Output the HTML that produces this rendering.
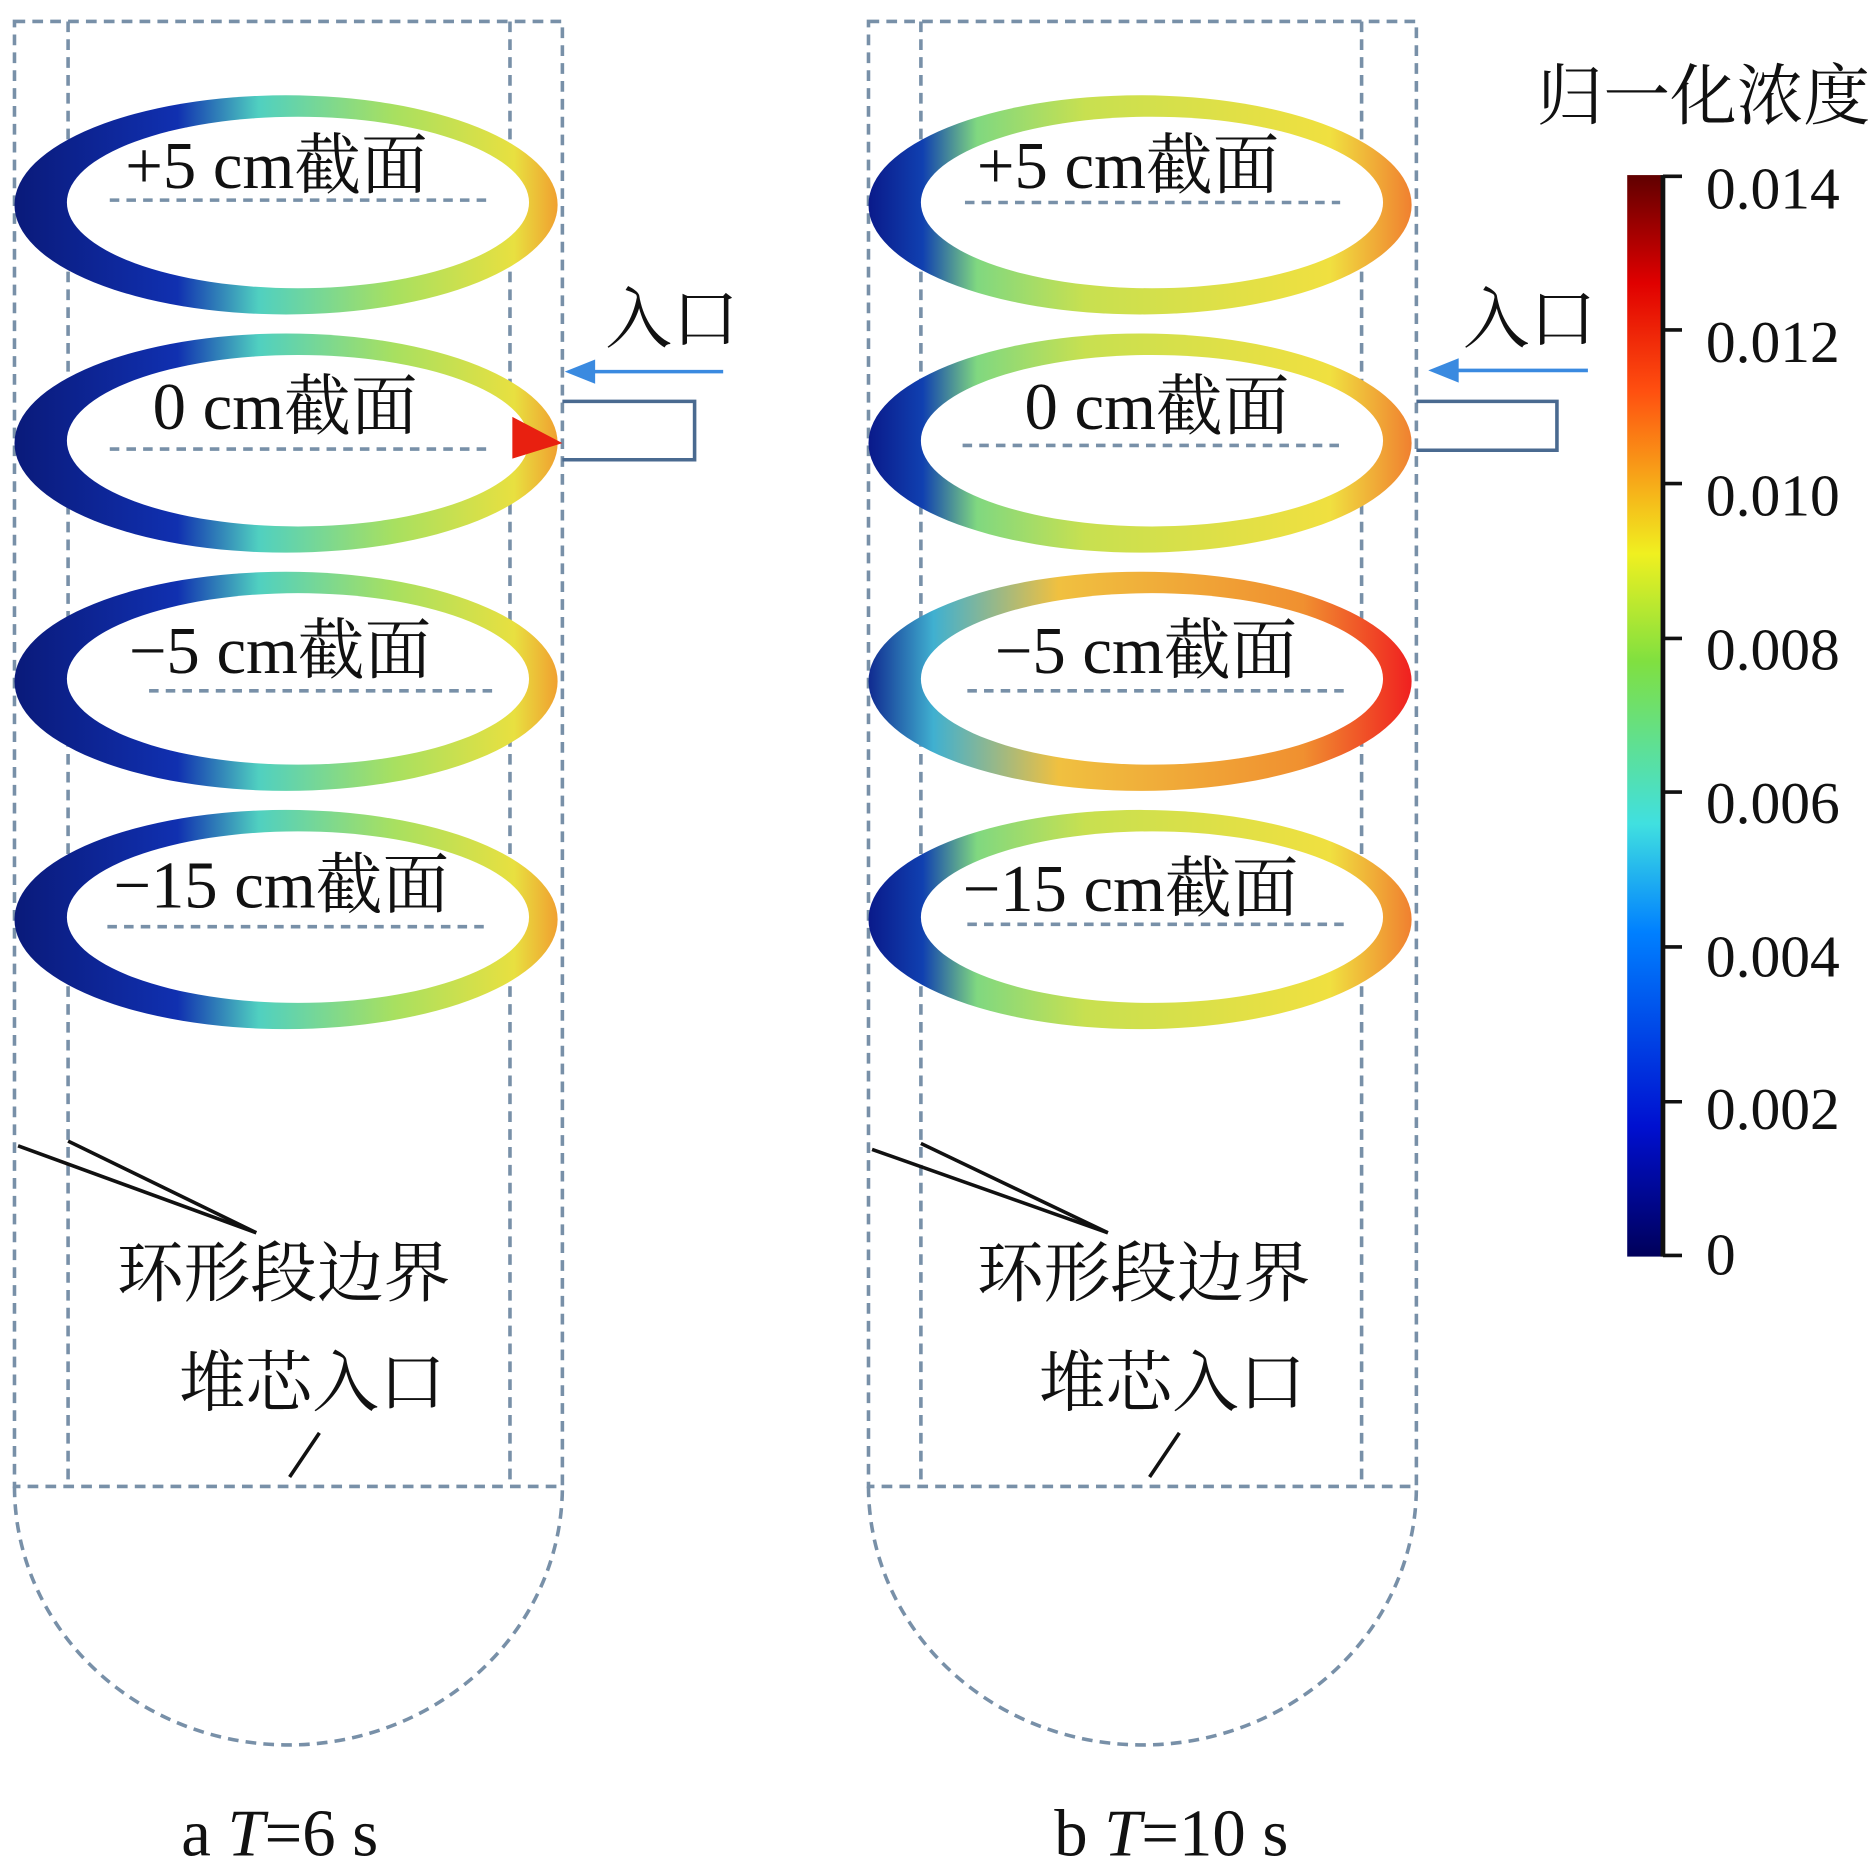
<!DOCTYPE html>
<html><head><meta charset="utf-8"><style>body{margin:0;background:#fff}svg{display:block}</style></head><body>
<svg width="1868" height="1870" viewBox="0 0 1568 1570" xmlns="http://www.w3.org/2000/svg" font-family="'Liberation Serif','Noto Serif CJK SC',serif">
<defs>
<linearGradient id="ga" x1="0" x2="1"><stop offset="0" stop-color="#0a1a7a"/><stop offset="0.3" stop-color="#1030b0"/><stop offset="0.45" stop-color="#50d0c0"/><stop offset="0.7" stop-color="#a8e060"/><stop offset="0.92" stop-color="#e8e040"/><stop offset="1" stop-color="#f0a030"/></linearGradient>
<linearGradient id="gb" x1="0" x2="1"><stop offset="0" stop-color="#0a1a8a"/><stop offset="0.1" stop-color="#1040b0"/><stop offset="0.2" stop-color="#80d880"/><stop offset="0.4" stop-color="#c8e050"/><stop offset="0.85" stop-color="#f0e040"/><stop offset="1" stop-color="#f08030"/></linearGradient>
<linearGradient id="gb3" x1="0" x2="1"><stop offset="0" stop-color="#102a90"/><stop offset="0.12" stop-color="#40b0d0"/><stop offset="0.35" stop-color="#f0c040"/><stop offset="0.8" stop-color="#f09030"/><stop offset="1" stop-color="#f02020"/></linearGradient>
<linearGradient id="jet" x1="0" y1="1" x2="0" y2="0"><stop offset="0" stop-color="#00005a"/><stop offset="0.12" stop-color="#0010d0"/><stop offset="0.3" stop-color="#0080ff"/><stop offset="0.4" stop-color="#40e0e0"/><stop offset="0.55" stop-color="#80e040"/><stop offset="0.65" stop-color="#f0f020"/><stop offset="0.8" stop-color="#ff5010"/><stop offset="0.9" stop-color="#e00000"/><stop offset="1" stop-color="#600000"/></linearGradient>
</defs>
<g stroke="#7890a8" stroke-width="3" stroke-dasharray="9,6" fill="none">
<rect x="12" y="18" width="460" height="1230"/><line x1="57" y1="18" x2="57" y2="1248"/><line x1="428" y1="18" x2="428" y2="1248"/>
<path d="M12 1248 A230 217 0 0 0 472 1248"/>
<rect x="729" y="18" width="460" height="1230"/><line x1="773" y1="18" x2="773" y2="1248"/><line x1="1143" y1="18" x2="1143" y2="1248"/>
<path d="M729 1248 A230 217 0 0 0 1189 1248"/>
</g>
<g>
<ellipse cx="240" cy="172" rx="228" ry="92" fill="url(#ga)"/><ellipse cx="250" cy="170" rx="194" ry="72" fill="#fff"/>
<ellipse cx="240" cy="372" rx="228" ry="92" fill="url(#ga)"/><ellipse cx="250" cy="370" rx="194" ry="72" fill="#fff"/>
<path d="M430 350 L472 372 L430 385 Z" fill="#e82010"/>
<ellipse cx="240" cy="572" rx="228" ry="92" fill="url(#ga)"/><ellipse cx="250" cy="570" rx="194" ry="72" fill="#fff"/>
<ellipse cx="240" cy="772" rx="228" ry="92" fill="url(#ga)"/><ellipse cx="250" cy="770" rx="194" ry="72" fill="#fff"/>
<ellipse cx="957" cy="172" rx="228" ry="92" fill="url(#gb)"/><ellipse cx="967" cy="170" rx="194" ry="72" fill="#fff"/>
<ellipse cx="957" cy="372" rx="228" ry="92" fill="url(#gb)"/><ellipse cx="967" cy="370" rx="194" ry="72" fill="#fff"/>
<ellipse cx="957" cy="572" rx="228" ry="92" fill="url(#gb3)"/><ellipse cx="967" cy="570" rx="194" ry="72" fill="#fff"/>
<ellipse cx="957" cy="772" rx="228" ry="92" fill="url(#gb)"/><ellipse cx="967" cy="770" rx="194" ry="72" fill="#fff"/>
</g>
<g stroke="#7890a8" stroke-width="3" stroke-dasharray="8,6">
<line x1="92" y1="168" x2="410" y2="168"/><line x1="92" y1="377" x2="410" y2="377"/><line x1="125" y1="580" x2="415" y2="580"/><line x1="90" y1="778" x2="410" y2="778"/>
<line x1="810" y1="170" x2="1125" y2="170"/><line x1="808" y1="374" x2="1125" y2="374"/><line x1="812" y1="580" x2="1130" y2="580"/><line x1="812" y1="776" x2="1130" y2="776"/>
</g>
<g font-size="56" fill="#111">
<text x="105" y="158">+5 cm截面</text><text x="128" y="360">0 cm截面</text><text x="108" y="565">−5 cm截面</text><text x="95" y="762">−15 cm截面</text>
<text x="820" y="158">+5 cm截面</text><text x="860" y="360">0 cm截面</text><text x="835" y="565">−5 cm截面</text><text x="808" y="765">−15 cm截面</text>
<text x="508" y="287">入口</text><text x="1228" y="287">入口</text>
<text x="98" y="1088">环形段边界</text><text x="150" y="1180">堆芯入口</text>
<text x="820" y="1088">环形段边界</text><text x="872" y="1180">堆芯入口</text>
<text x="1290" y="100">归一化浓度</text>
<text x="152" y="1558">a  <tspan font-style="italic">T</tspan>=6 s</text>
<text x="885" y="1558">b  <tspan font-style="italic">T</tspan>=10 s</text>
</g>
<g stroke="#4a6a90" stroke-width="3" fill="none">
<path d="M472 337 H583 V386 H472"/><path d="M1189 337 H1307 V378 H1189"/>
</g>
<g stroke="#3a8ae0" stroke-width="3" fill="#3a8ae0">
<line x1="607" y1="312" x2="490" y2="312"/><path d="M478 312 L498 304 L498 320 Z"/>
<line x1="1333" y1="311" x2="1215" y2="311"/><path d="M1203 311 L1223 303 L1223 319 Z"/>
</g>
<g stroke="#111" stroke-width="3">
<line x1="15" y1="962" x2="215" y2="1035"/><line x1="57" y1="958" x2="215" y2="1035"/><line x1="268" y1="1203" x2="243" y2="1240"/>
<line x1="732" y1="965" x2="930" y2="1035"/><line x1="773" y1="960" x2="930" y2="1035"/><line x1="990" y1="1203" x2="965" y2="1240"/>
</g>
<rect x="1366" y="147" width="30" height="908" fill="url(#jet)"/>
<line x1="1396" y1="147" x2="1396" y2="1055" stroke="#111" stroke-width="4"/>
<g stroke="#111" stroke-width="3">
<line x1="1396" y1="148" x2="1412" y2="148"/><line x1="1396" y1="277" x2="1412" y2="277"/><line x1="1396" y1="406" x2="1412" y2="406"/><line x1="1396" y1="536" x2="1412" y2="536"/><line x1="1396" y1="665" x2="1412" y2="665"/><line x1="1396" y1="795" x2="1412" y2="795"/><line x1="1396" y1="925" x2="1412" y2="925"/><line x1="1396" y1="1054" x2="1412" y2="1054"/>
</g>
<g font-size="50" fill="#111">
<text x="1432" y="175">0.014</text><text x="1432" y="304">0.012</text><text x="1432" y="433">0.010</text><text x="1432" y="562">0.008</text><text x="1432" y="691">0.006</text><text x="1432" y="820">0.004</text><text x="1432" y="948">0.002</text><text x="1432" y="1070">0</text>
</g>
</svg>
</body></html>
